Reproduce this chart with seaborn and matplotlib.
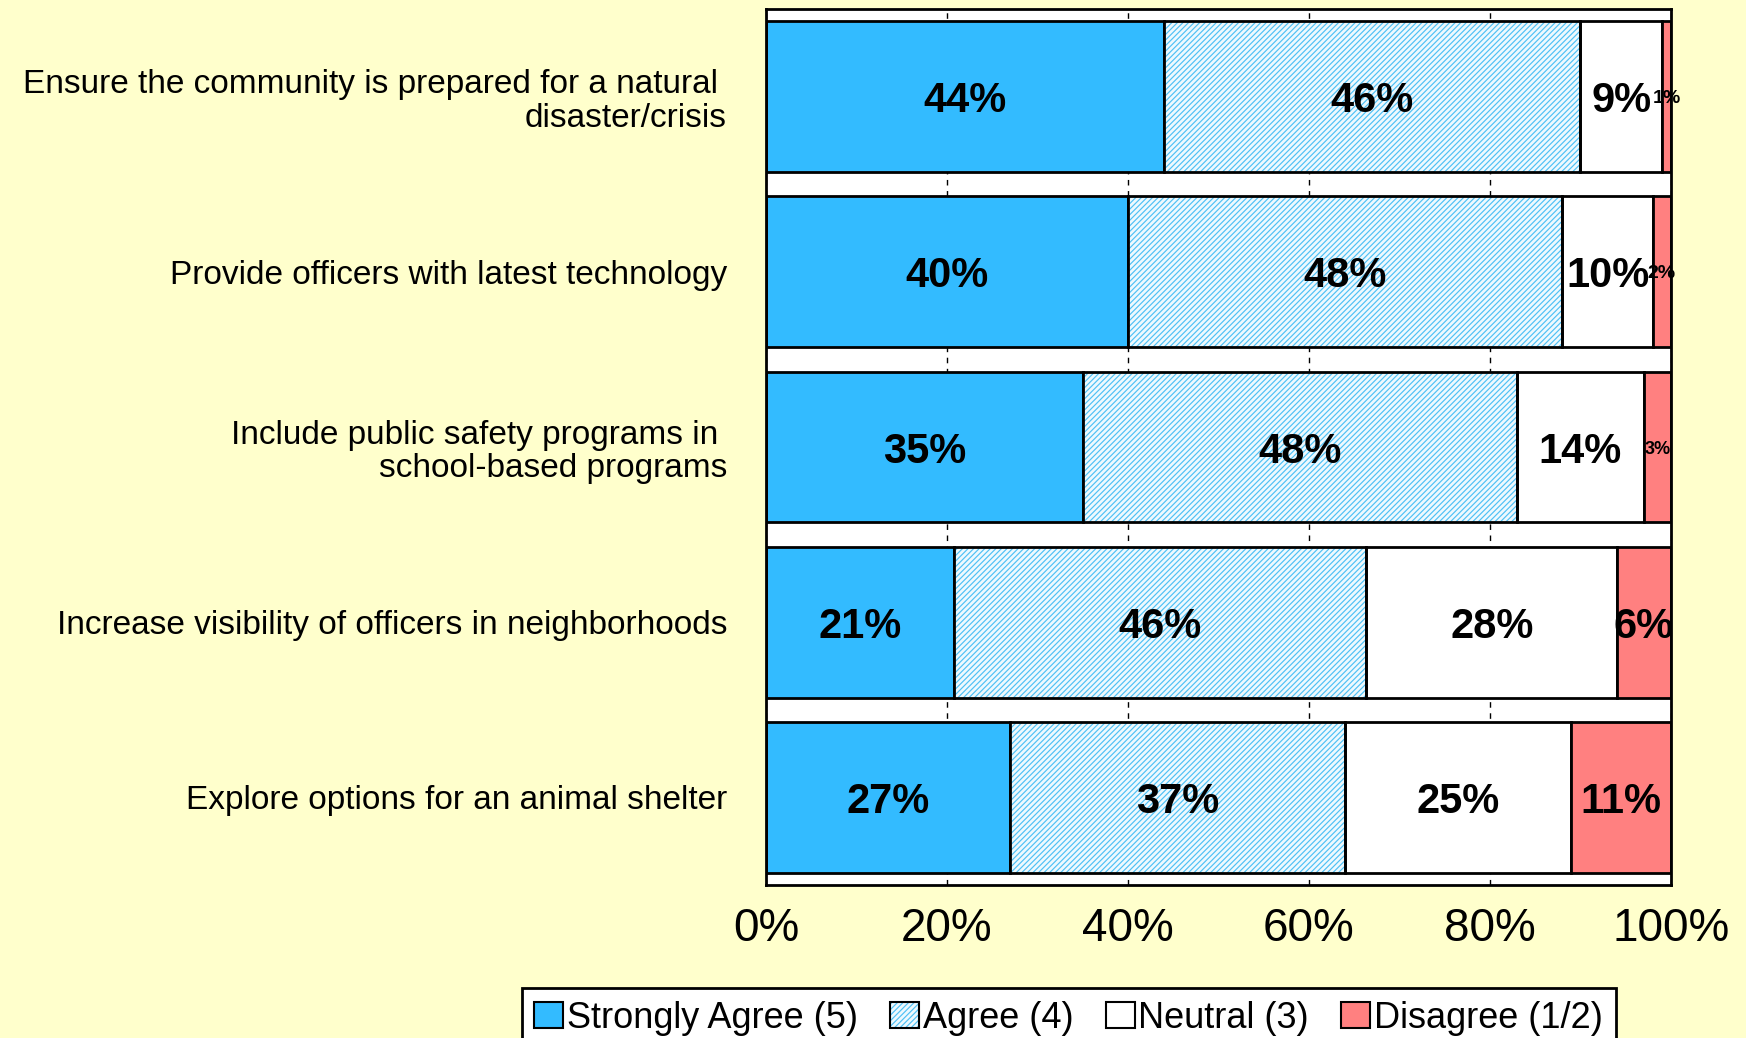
import matplotlib
matplotlib.use("Agg")
import numpy as np
import pandas as pd
import matplotlib.pyplot as plt
import seaborn as sns
from matplotlib.patches import Patch

# data (percent of respondents)
categories = [
    "Ensure the community is prepared for a natural \ndisaster/crisis",
    "Provide officers with latest technology",
    "Include public safety programs in \nschool-based programs",
    "Increase visibility of officers in neighborhoods",
    "Explore options for an animal shelter",
]
strongly_agree = [44, 40, 35, 21, 27]
agree = [46, 48, 48, 46, 37]
neutral = [9, 10, 14, 28, 25]
disagree = [1, 2, 3, 6, 11]
series_names = ["Strongly Agree (5)", "Agree (4)", "Neutral (3)", "Disagree (1/2)"]
x_ticks = [0, 20, 40, 60, 80, 100]

BG = "#FFFFCC"
BLUE = "#33BBFF"
PINK = "#FF8080"
AGREE_FACE = "#EEF9FE"
HATCH_COL = "#4DC0F5"
HATCH = "//////"

sns.set_style("white")
plt.rcParams["font.family"] = ["Liberation Sans", "DejaVu Sans"]
plt.rcParams["hatch.linewidth"] = 0.85
plt.rcParams["text.color"] = "black"
plt.rcParams["xtick.color"] = "black"
plt.rcParams["ytick.color"] = "black"

df = pd.DataFrame({"cat": categories, "sa": strongly_agree, "a": agree,
                   "n": neutral, "d": disagree})
total = df[["sa", "a", "n", "d"]].sum(axis=1)
for c in ["sa", "a", "n", "d"]:
    df[c + "_pct"] = df[c] / total * 100

fig = plt.figure(figsize=(17.46, 10.38), dpi=100, facecolor=BG)
ax = fig.add_axes([0.4387, 0.1474, 0.5183, 0.8439])
ax.set_facecolor("white")

bar_w = 0.86
left = np.zeros(len(df))
segments = [("sa", BLUE, None), ("a", AGREE_FACE, HATCH), ("n", "white", None), ("d", PINK, None)]
for key, col, hatch in segments:
    vals = df[key + "_pct"].values
    if hatch:
        # hatched fill first (hatch takes the edge colour), outline on top
        sns.barplot(x=vals, y=df["cat"], left=left, orient="h", color=col,
                    facecolor=col, edgecolor=HATCH_COL, linewidth=0, hatch=hatch,
                    width=bar_w, ax=ax, saturation=1, zorder=2)
        sns.barplot(x=vals, y=df["cat"], left=left, orient="h", fill=False,
                    color="black", linewidth=2, width=bar_w, ax=ax, zorder=3)
    else:
        sns.barplot(x=vals, y=df["cat"], left=left, orient="h", color=col,
                    edgecolor="black", linewidth=2, width=bar_w, ax=ax,
                    saturation=1, zorder=2)
    for i, (v, p) in enumerate(zip(df[key].values, vals)):
        size = 30
        if v <= 3:
            size = {1: 14, 2: 14, 3: 13}[v]
        ax.text(left[i] + p / 2, i, f"{v}%", ha="center", va="center_baseline",
                fontsize=size, fontweight="bold", color="black", zorder=5,
                clip_on=False)
    left = left + vals

ax.set_xlim(0, 100)
ax.set_ylim(4.5, -0.5)
ax.set_xticks(x_ticks)
ax.set_xticklabels([f"{t}%" for t in x_ticks], fontsize=33)
ax.set_yticks(range(len(categories)))
ax.set_yticklabels(categories, fontsize=24, linespacing=1.1)
ax.tick_params(axis="both", length=0, labelcolor="black")
ax.tick_params(axis="x", pad=16)
ax.tick_params(axis="y", pad=28)
ax.set_xlabel("")
ax.set_ylabel("")
ax.grid(axis="x", color="black", linestyle=(0, (4, 4)), linewidth=1)
ax.grid(axis="y", visible=False)
ax.set_axisbelow(True)
for s in ax.spines.values():
    s.set_visible(True)
    s.set_color("black")
    s.set_linewidth(2)

handles = [
    Patch(facecolor=BLUE, edgecolor="black", linewidth=1.5),
    (Patch(facecolor=AGREE_FACE, edgecolor=HATCH_COL, linewidth=0, hatch=HATCH),
     Patch(facecolor="none", edgecolor="black", linewidth=1.5)),
    Patch(facecolor="white", edgecolor="black", linewidth=1.5),
    Patch(facecolor=PINK, edgecolor="black", linewidth=1.5),
]
leg = fig.legend(handles, series_names, loc="upper center",
                 bbox_to_anchor=(0.612, 0.0482), ncol=4, frameon=True,
                 fancybox=False, edgecolor="black", framealpha=1,
                 prop={"size": 26}, borderaxespad=0,
                 handlelength=0.8, handleheight=0.75, handletextpad=0.1,
                 columnspacing=0.9, borderpad=0.35)
leg.get_frame().set_linewidth(2)

fig.savefig("out.png", dpi=100, facecolor=BG)
